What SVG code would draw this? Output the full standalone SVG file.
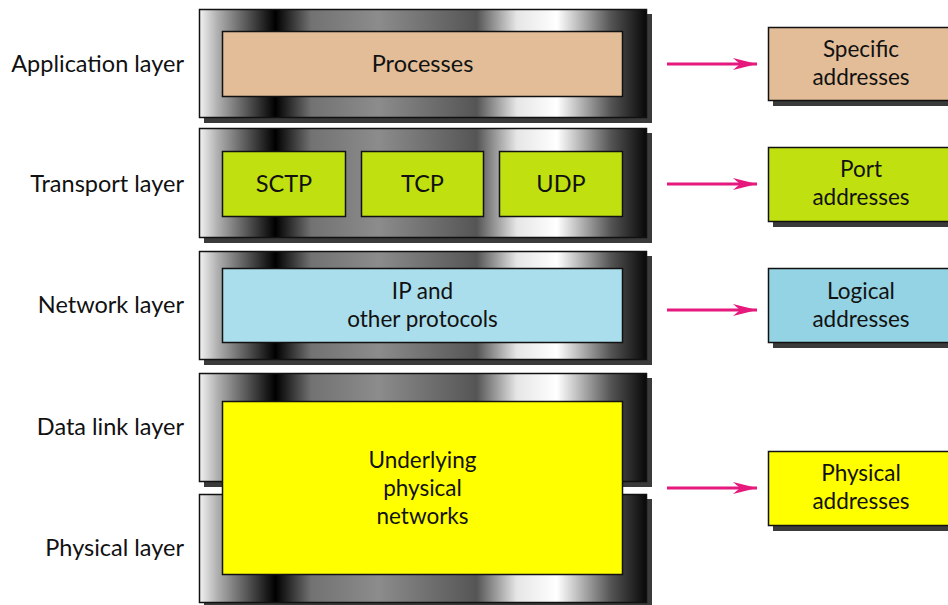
<svg xmlns="http://www.w3.org/2000/svg" width="948" height="605" viewBox="0 0 948 605">
<defs>
<linearGradient id="metal" x1="0" y1="0" x2="1" y2="0">
<stop offset="0" stop-color="#f2f2f2"/>
<stop offset="0.04" stop-color="#b0b0b0"/>
<stop offset="0.17" stop-color="#000"/>
<stop offset="0.25" stop-color="#727272"/>
<stop offset="0.40" stop-color="#8c8c8c"/>
<stop offset="0.62" stop-color="#555"/>
<stop offset="0.71" stop-color="#e6e6e6"/>
<stop offset="0.80" stop-color="#fff"/>
<stop offset="0.92" stop-color="#555"/>
<stop offset="1" stop-color="#080808"/>
</linearGradient>
<marker id="ah" viewBox="0 0 24 12" refX="24" refY="6" markerWidth="24" markerHeight="12" markerUnits="userSpaceOnUse" orient="auto">
<path d="M0,0 L24,6 L0,12 L7,6 Z" fill="#e6197d"/>
</marker>
<style>
.panel{fill:url(#metal);stroke:#111;stroke-width:1.5}
.shadow{fill:#3a3a3a}
.box{stroke:#111;stroke-width:1.5}
.t{font-family:Lato,"Open Sans","Liberation Sans",sans-serif;font-size:22.5px;fill:#111}
.big{font-size:23.5px}
.c{text-anchor:middle}
.r{text-anchor:end}
.conn{stroke:#e6197d;stroke-width:3;fill:none;marker-end:url(#ah)}
</style>
</defs>
<rect width="948" height="605" fill="#fff"/>

<g id="layer-labels">
<text class="t big r" x="184" y="72">Application layer</text>
<text class="t big r" x="184" y="192">Transport layer</text>
<text class="t big r" x="184" y="313">Network layer</text>
<text class="t big r" x="184" y="435">Data link layer</text>
<text class="t big r" x="184" y="556">Physical layer</text>
</g>

<g id="application-layer">
<rect class="shadow" x="204" y="14" width="448" height="109"/>
<rect class="panel" x="199.5" y="9.5" width="447" height="108"/>
<g id="processes">
<rect class="box" x="222.5" y="31.5" width="400" height="65" fill="#e2bd98"/>
<text class="t big c" x="422.5" y="72">Processes</text>
</g>
</g>

<g id="transport-layer">
<rect class="shadow" x="204" y="133" width="448" height="110"/>
<rect class="panel" x="199.5" y="128.5" width="447" height="109"/>
<g id="sctp">
<rect class="box" x="222.5" y="151.5" width="123" height="65" fill="#c0e010"/>
<text class="t big c" x="284" y="192">SCTP</text>
</g>
<g id="tcp">
<rect class="box" x="361.5" y="151.5" width="122" height="65" fill="#c0e010"/>
<text class="t big c" x="422.5" y="192">TCP</text>
</g>
<g id="udp">
<rect class="box" x="499.5" y="151.5" width="123" height="65" fill="#c0e010"/>
<text class="t big c" x="561" y="192">UDP</text>
</g>
</g>

<g id="network-layer">
<rect class="shadow" x="204" y="256" width="448" height="109"/>
<rect class="panel" x="199.5" y="251.5" width="447" height="108"/>
<g id="ip">
<rect class="box" x="222.5" y="268.5" width="400" height="74" fill="#aadeec"/>
<text class="t c" x="422.5" y="299">IP and</text>
<text class="t c" x="422.5" y="327">other protocols</text>
</g>
</g>

<g id="data-link-layer">
<rect class="shadow" x="204" y="378" width="448" height="109"/>
<rect class="panel" x="199.5" y="373.5" width="447" height="108"/>
</g>

<g id="physical-layer">
<rect class="shadow" x="204" y="499" width="448" height="110"/>
<rect class="panel" x="199.5" y="494.5" width="447" height="108"/>
</g>

<g id="underlying-networks">
<rect class="box" x="222.5" y="401.5" width="400" height="173" fill="#ffff00"/>
<text class="t c" x="422.5" y="468">Underlying</text>
<text class="t c" x="422.5" y="496">physical</text>
<text class="t c" x="422.5" y="524">networks</text>
</g>

<g id="specific-addresses">
<rect class="shadow" x="773" y="32" width="200" height="74"/>
<rect class="box" x="768.5" y="27.5" width="200" height="73" fill="#e2bd98"/>
<text class="t c" x="861" y="57">Specific</text>
<text class="t c" x="861" y="85">addresses</text>
</g>

<g id="port-addresses">
<rect class="shadow" x="773" y="152" width="200" height="75"/>
<rect class="box" x="768.5" y="147.5" width="200" height="74" fill="#c0e010"/>
<text class="t c" x="861" y="177">Port</text>
<text class="t c" x="861" y="205">addresses</text>
</g>

<g id="logical-addresses">
<rect class="shadow" x="773" y="273" width="200" height="75"/>
<rect class="box" x="768.5" y="268.5" width="200" height="74" fill="#93d3e3"/>
<text class="t c" x="861" y="299">Logical</text>
<text class="t c" x="861" y="327">addresses</text>
</g>

<g id="physical-addresses">
<rect class="shadow" x="773" y="456" width="200" height="75"/>
<rect class="box" x="768.5" y="451.5" width="200" height="74" fill="#ffff00"/>
<text class="t c" x="861" y="481">Physical</text>
<text class="t c" x="861" y="509">addresses</text>
</g>

<g id="connectors">
<line class="conn" x1="667" y1="64" x2="757" y2="64"/>
<line class="conn" x1="667" y1="184" x2="757" y2="184"/>
<line class="conn" x1="667" y1="310" x2="757" y2="310"/>
<line class="conn" x1="667" y1="488" x2="757" y2="488"/>
</g>
</svg>
